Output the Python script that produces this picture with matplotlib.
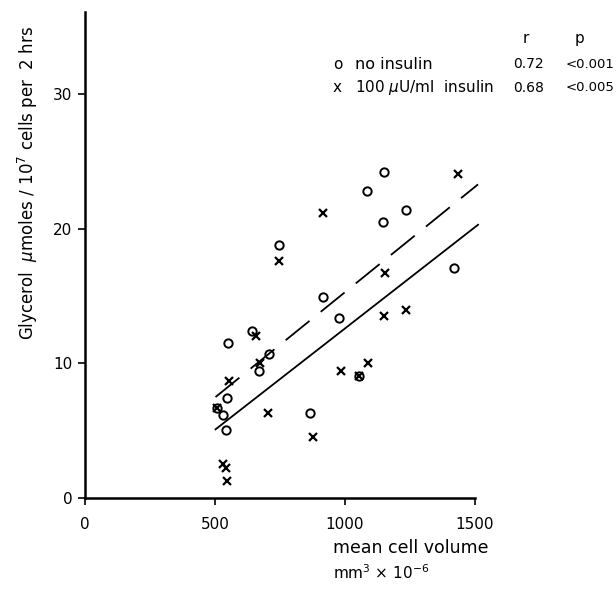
import numpy as np
import matplotlib.pyplot as plt

# ------------------------------------------------------------------ data

# no insulin (open circles)
vol_no = [508, 530, 541, 545, 550, 642, 669, 708, 745, 866, 914, 978, 1055, 1084, 1147, 1149, 1234, 1421]
gly_no = [6.7, 6.2, 5.05, 7.45, 11.55, 12.4, 9.4, 10.7, 18.8, 6.3, 14.9, 13.4, 9.1, 22.8, 20.5, 24.2, 21.4, 17.1]

# 100 uU/ml insulin (crosses)
vol_ins = [508, 530, 541, 547, 552, 658, 672, 704, 748, 876, 917, 983, 1055, 1087, 1149, 1153, 1234, 1436]
gly_ins = [6.7, 2.5, 2.25, 1.3, 8.7, 12.0, 10.05, 6.3, 17.6, 4.5, 21.2, 9.4, 9.1, 10.05, 13.5, 16.7, 14.0, 24.1]

# regression lines drawn on the figure (end points)
line_x = [502, 1512]
line_no = [5.1, 20.3]   # solid
line_ins = [7.5, 23.3]  # dashed

# ------------------------------------------------------------------ figure

fig = plt.figure(figsize=(6.16, 5.89), dpi=100)
ax = fig.add_axes([0.138, 0.1545, 0.633, 0.825])

ax.plot(vol_no, gly_no, linestyle='none', marker='o', markersize=6, markerfacecolor='none',
        markeredgecolor='k', markeredgewidth=1.4, clip_on=False)
ax.plot(vol_ins, gly_ins, linestyle='none', marker='x', markersize=5.5, color='k',
        markeredgewidth=1.6, clip_on=False)

ax.plot(line_x, line_no, color='k', linewidth=1.3, clip_on=False)
ax.plot(line_x, line_ins, color='k', linewidth=1.3, dashes=(17, 8), clip_on=False)

ax.set_xlim(0, 1500)
ax.set_ylim(0, 36.1)
ax.set_xticks([0, 500, 1000, 1500])
ax.set_yticks([0, 10, 20, 30])
ax.tick_params(direction='out', length=5, width=1.2, labelsize=11)
ax.tick_params(axis='x', pad=9)
ax.tick_params(axis='y', pad=4)

for side in ['top', 'right']:
    ax.spines[side].set_visible(False)
for side in ['left', 'bottom']:
    ax.spines[side].set_linewidth(1.8)

# axis labels
fig.text(0.046, 0.69, 'Glycerol  $\\mu$moles / 10$^7$ cells per  2 hrs', rotation=90,
         ha='center', va='center', fontsize=12)
fig.text(0.541, 0.070, 'mean cell volume', ha='left', va='center', fontsize=12.5)
fig.text(0.541, 0.027, 'mm$^3$ × 10$^{-6}$', ha='left', va='center', fontsize=11)

# legend with correlation statistics
fig.text(0.854, 0.935, 'r', ha='center', va='center', fontsize=11)
fig.text(0.940, 0.935, 'p', ha='center', va='center', fontsize=11)

fig.text(0.540, 0.891, 'o', ha='left', va='center', fontsize=11)
fig.text(0.576, 0.891, 'no insulin', ha='left', va='center', fontsize=11.5)
fig.text(0.833, 0.891, '0.72', ha='left', va='center', fontsize=10)
fig.text(0.918, 0.891, '<0.001', ha='left', va='center', fontsize=9.5)

fig.text(0.540, 0.851, 'x', ha='left', va='center', fontsize=11)
fig.text(0.576, 0.851, '100 $\\mu$U/ml  insulin', ha='left', va='center', fontsize=11)
fig.text(0.833, 0.851, '0.68', ha='left', va='center', fontsize=10)
fig.text(0.918, 0.851, '<0.005', ha='left', va='center', fontsize=9.5)

plt.savefig('out.png', dpi=100)
